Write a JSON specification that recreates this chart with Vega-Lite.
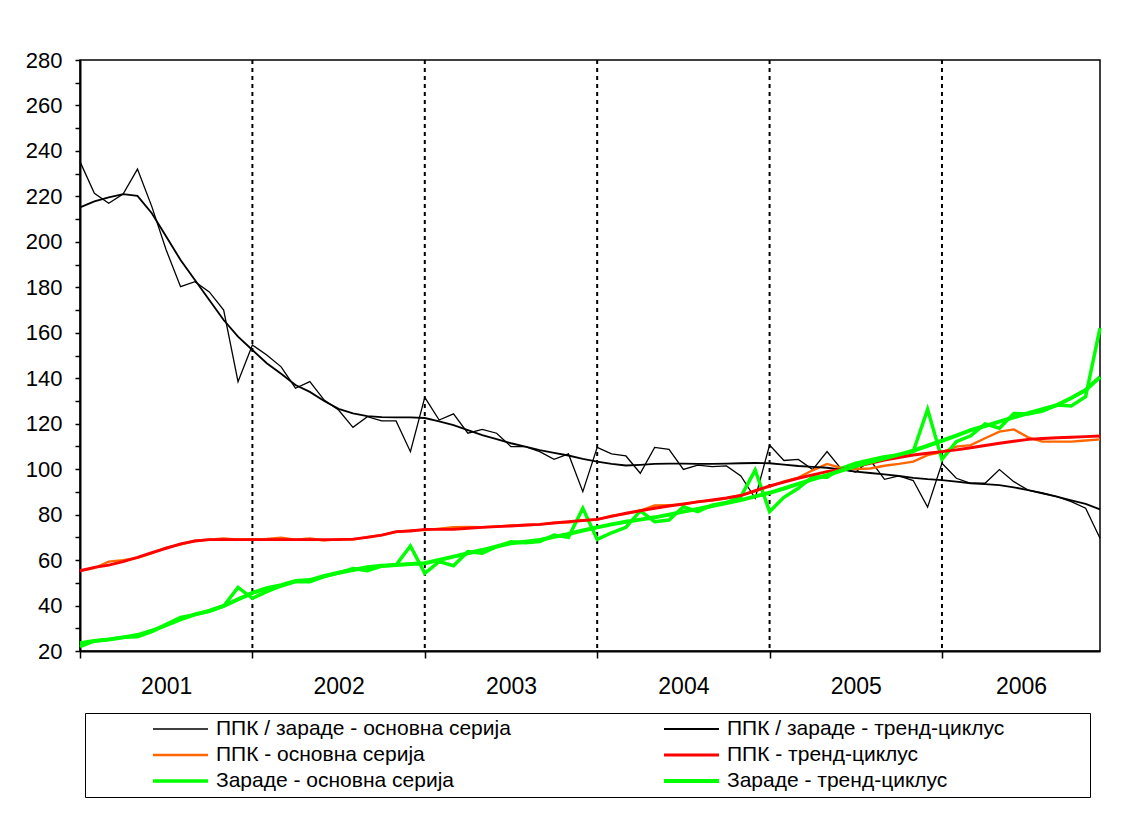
{
  "$schema": "https://vega.github.io/schema/vega-lite/v6.json",
  "width": 1020,
  "height": 591,
  "autosize": {"type": "none"},
  "padding": {"left": 80, "top": 60, "right": 31, "bottom": 174},
  "background": "white",
  "config": {
    "view": {"stroke": "#000", "strokeWidth": 1.5},
    "font": "Liberation Sans"
  },
  "layer": [
    {
      "data": {"values": [{"b": 12}, {"b": 24}, {"b": 36}, {"b": 48}, {"b": 60}]},
      "mark": {"type": "rule", "color": "#000", "strokeWidth": 2, "strokeDash": [4, 4]},
      "encoding": {
        "x": {
          "field": "b", "type": "quantitative",
          "scale": {"domain": [0, 71], "nice": false, "zero": false},
          "axis": {
            "values": [0, 6, 12, 18, 24, 30, 36, 42, 48, 54, 60, 65.5],
            "title": null, "grid": false,
            "labelExpr": "datum.value % 12 === 0 ? '' : '' + (floor(datum.value / 12) + 2001)",
            "tickOpacity": {"condition": {"test": "datum.value % 12 === 0", "value": 1}, "value": 0},
            "tickSize": 7, "tickWidth": 1.5, "tickColor": "#000",
            "domainColor": "#000", "domainWidth": 2,
            "labelFont": "Liberation Sans", "labelFontSize": 23, "labelColor": "#000",
            "labelPadding": 17, "labelOverlap": false, "labelFlush": false
          }
        }
      }
    },
    {
      "data": {"values": [
        {"t":0,"ППК / зараде - основна серија":235.3,"ППК / зараде - тренд-циклус":215.2,"ППК - основна серија":55.3,"ППК - тренд-циклус":55.3,"Зараде - основна серија":21.9,"Зараде - тренд-циклус":23.4},
        {"t":1,"ППК / зараде - основна серија":221.4,"ППК / зараде - тренд-циклус":217.8,"ППК - основна серија":56.5,"ППК - тренд-циклус":56.8,"Зараде - основна серија":24.4,"Зараде - тренд-циклус":24.4},
        {"t":2,"ППК / зараде - основна серија":217,"ППК / зараде - тренд-циклус":219.6,"ППК - основна серија":59.3,"ППК - тренд-циклус":57.8,"Зараде - основна серија":25.1,"Зараде - тренд-циклус":25.1},
        {"t":3,"ППК / зараде - основна серија":221,"ППК / зараде - тренд-циклус":221,"ППК - основна серија":60,"ППК - тренд-циклус":59.3,"Зараде - основна серија":26,"Зараде - тренд-циклус":26},
        {"t":4,"ППК / зараде - основна серија":232,"ППК / зараде - тренд-циклус":220.2,"ППК - основна серија":61,"ППК - тренд-циклус":61.2,"Зараде - основна серија":26.3,"Зараде - тренд-циклус":27},
        {"t":5,"ППК / зараде - основна серија":215.5,"ППК / зараде - тренд-циклус":212.6,"ППК - основна серија":63,"ППК - тренд-циклус":63.3,"Зараде - основна серија":28.5,"Зараде - тренд-циклус":28.9},
        {"t":6,"ППК / зараде - основна серија":196.4,"ППК / зараде - тренд-циклус":202.4,"ППК - основна серија":65.5,"ППК - тренд-циклус":65.2,"Зараде - основна серија":31.8,"Зараде - тренд-циклус":31.4},
        {"t":7,"ППК / зараде - основна серија":180.3,"ППК / зараде - тренд-циклус":192,"ППК - основна серија":66.8,"ППК - тренд-циклус":67.1,"Зараде - основна серија":34.8,"Зараде - тренд-циклус":33.9},
        {"t":8,"ППК / зараде - основна серија":182.5,"ППК / зараде - тренд-циклус":183.2,"ППК - основна серија":68.5,"ППК - тренд-циклус":68.4,"Зараде - основна серија":36,"Зараде - тренд-циклус":36.1},
        {"t":9,"ППК / зараде - основна серија":178,"ППК / зараде - тренд-циклус":174.4,"ППК - основна серија":69,"ППК - тренд-циклус":69,"Зараде - основна серија":37.6,"Зараде - тренд-циклус":37.6},
        {"t":10,"ППК / зараде - основна серија":170,"ППК / зараде - тренд-циклус":165.6,"ППК - основна серија":69.5,"ППК - тренд-циклус":69,"Зараде - основна серија":39.8,"Зараде - тренд-циклус":39.8},
        {"t":11,"ППК / зараде - основна серија":138.5,"ППК / зараде - тренд-циклус":158.3,"ППК - основна серија":69,"ППК - тренд-циклус":69,"Зараде - основна серија":48,"Зараде - тренд-циклус":42.7},
        {"t":12,"ППК / зараде - основна серија":154.6,"ППК / зараде - тренд-циклус":152.4,"ППК - основна серија":69.2,"ППК - тренд-циклус":69,"Зараде - основна серија":43.2,"Зараде - тренд-циклус":45.6},
        {"t":13,"ППК / зараде - основна серија":150.2,"ППК / зараде - тренд-циклус":146.6,"ППК - основна серија":69.3,"ППК - тренд-циклус":69,"Зараде - основна серија":46.1,"Зараде - тренд-циклус":47.6},
        {"t":14,"ППК / зараде - основна серија":145,"ППК / зараде - тренд-циклус":142,"ППК - основна серија":69.8,"ППК - тренд-циклус":69,"Зараде - основна серија":48.6,"Зараде - тренд-циклус":49},
        {"t":15,"ППК / зараде - основна серија":135.6,"ППК / зараде - тренд-циклус":137,"ППК - основна серија":69,"ППК - тренд-циклус":69,"Зараде - основна серија":50.5,"Зараде - тренд-циклус":50.8},
        {"t":16,"ППК / зараде - основна серија":138.5,"ППК / зараде - тренд-циклус":134,"ППК - основна серија":69.5,"ППК - тренд-циклус":69,"Зараде - основна серија":50.5,"Зараде - тренд-циклус":51.2},
        {"t":17,"ППК / зараде - основна серија":130.4,"ППК / зараде - тренд-циклус":130,"ППК - основна серија":68.6,"ППК - тренд-циклус":69,"Зараде - основна серија":52.7,"Зараде - тренд-циклус":53},
        {"t":18,"ППК / зараде - основна серија":126,"ППК / зараде - тренд-циклус":126.5,"ППК - основна серија":69.2,"ППК - тренд-циклус":69,"Зараде - основна серија":54.4,"Зараде - тренд-циклус":54.4},
        {"t":19,"ППК / зараде - основна серија":118.4,"ППК / зараде - тренд-циклус":124.5,"ППК - основна серија":69,"ППК - тренд-циклус":69.2,"Зараде - основна серија":56.3,"Зараде - тренд-циклус":55.6},
        {"t":20,"ППК / зараде - основна серија":123.1,"ППК / зараде - тренд-циклус":123.3,"ППК - основна серија":70.2,"ППК - тренд-циклус":70,"Зараде - основна серија":55.3,"Зараде - тренд-циклус":56.8},
        {"t":21,"ППК / зараде - основна серија":121.2,"ППК / зараде - тренд-циклус":122.9,"ППК - основна серија":71,"ППК - тренд-циклус":71,"Зараде - основна серија":57.4,"Зараде - тренд-циклус":57.5},
        {"t":22,"ППК / зараде - основна серија":121.2,"ППК / зараде - тренд-циклус":122.8,"ППК - основна серија":72.3,"ППК - тренд-циклус":72.5,"Зараде - основна серија":57.8,"Зараде - тренд-циклус":57.8},
        {"t":23,"ППК / зараде - основна серија":107.7,"ППК / зараде - тренд-циклус":122.8,"ППК - основна серија":73,"ППК - тренд-циклус":72.8,"Зараде - основна серија":66.2,"Зараде - тренд-циклус":58.3},
        {"t":24,"ППК / зараде - основна серија":131.6,"ППК / зараде - тренд-циклус":122.5,"ППК - основна серија":73.2,"ППК - тренд-циклус":73.5,"Зараде - основна серија":54.2,"Зараде - тренд-циклус":58.6},
        {"t":25,"ППК / зараде - основна серија":121.6,"ППК / зараде - тренд-циклус":121,"ППК - основна серија":73.8,"ППК - тренд-циклус":73.5,"Зараде - основна серија":59.3,"Зараде - тренд-циклус":60},
        {"t":26,"ППК / зараде - основна серија":124.3,"ППК / зараде - тренд-циклус":119.4,"ППК - основна серија":74.5,"ППК - тренд-циклус":73.5,"Зараде - основна серија":57.5,"Зараде - тренд-циклус":61.5},
        {"t":27,"ППК / зараде - основна серија":115.8,"ППК / зараде - тренд-циклус":117.2,"ППК - основна серија":74.6,"ППК - тренд-циклус":74,"Зараде - основна серија":63.7,"Зараде - тренд-циклус":63},
        {"t":28,"ППК / зараде - основна серија":117.5,"ППК / зараде - тренд-циклус":115,"ППК - основна серија":74.5,"ППК - тренд-циклус":74.4,"Зараде - основна серија":63,"Зараде - тренд-циклус":64.4},
        {"t":29,"ППК / зараде - основна серија":115.8,"ППК / зараде - тренд-циклус":113.2,"ППК - основна серија":74.8,"ППК - тренд-циклус":74.7,"Зараде - основна серија":65.9,"Зараде - тренд-циклус":66},
        {"t":30,"ППК / зараде - основна серија":109.9,"ППК / зараде - тренд-циклус":111.4,"ППК - основна серија":75.2,"ППК - тренд-циклус":75,"Зараде - основна серија":68.1,"Зараде - тренд-циклус":67.4},
        {"t":31,"ППК / зараде - основна серија":109.9,"ППК / зараде - тренд-циклус":109.9,"ППК - основна серија":75.3,"ППК - тренд-циклус":75.4,"Зараде - основна серија":67.6,"Зараде - тренд-циклус":68.1},
        {"t":32,"ППК / зараде - основна серија":107.7,"ППК / зараде - тренд-циклус":108.4,"ППК - основна серија":75.6,"ППК - тренд-циклус":75.7,"Зараде - основна серија":68.1,"Зараде - тренд-циклус":68.8},
        {"t":33,"ППК / зараде - основна серија":104.3,"ППК / зараде - тренд-циклус":107.2,"ППК - основна серија":76.5,"ППК - тренд-циклус":76.3,"Зараде - основна серија":71,"Зараде - тренд-циклус":70.2},
        {"t":34,"ППК / зараде - основна серија":106.7,"ППК / зараде - тренд-циклус":106,"ППК - основна серија":76.5,"ППК - тренд-циклус":76.9,"Зараде - основна серија":70,"Зараде - тренд-циклус":71.5},
        {"t":35,"ППК / зараде - основна серија":90.1,"ППК / зараде - тренд-циклус":104.5,"ППК - основна серија":77.5,"ППК - тренд-циклус":77.4,"Зараде - основна серија":82.8,"Зараде - тренд-циклус":73},
        {"t":36,"ППК / зараде - основна серија":109.6,"ППК / зараде - тренд-циклус":103.3,"ППК - основна серија":77.8,"ППК - тренд-циклус":77.9,"Зараде - основна серија":69.1,"Зараде - тренд-циклус":74.4},
        {"t":37,"ППК / зараде - основна серија":106.7,"ППК / зараде - тренд-циклус":102.3,"ППК - основна серија":79.5,"ППК - тренд-циклус":79.2,"Зараде - основна серија":72,"Зараде - тренд-циклус":75.7},
        {"t":38,"ППК / зараде - основна серија":105.8,"ППК / зараде - тренд-циклус":101.6,"ППК - основна серија":80.3,"ППК - тренд-циклус":80.6,"Зараде - основна серија":74.4,"Зараде - тренд-циклус":76.9},
        {"t":39,"ППК / зараде - основна серија":98.2,"ППК / зараде - тренд-циклус":101.9,"ППК - основна серија":81.8,"ППК - тренд-циклус":81.7,"Зараде - основна серија":81.7,"Зараде - тренд-циклус":77.8},
        {"t":40,"ППК / зараде - основна серија":109.6,"ППК / зараде - тренд-циклус":102.3,"ППК - основна серија":84,"ППК - тренд-циклус":82.8,"Зараде - основна серија":76.9,"Зараде - тренд-циклус":78.8},
        {"t":41,"ППК / зараде - основна серија":108.7,"ППК / зараде - тренд-циклус":102.4,"ППК - основна серија":84.2,"ППК - тренд-циклус":83.8,"Зараде - основна серија":77.6,"Зараде - тренд-циклус":80},
        {"t":42,"ППК / зараде - основна серија":99.9,"ППК / зараде - тренд-циклус":102.4,"ППК - основна серија":84.5,"ППК - тренд-циклус":84.7,"Зараде - основна серија":83.5,"Зараде - тренд-циклус":81.3},
        {"t":43,"ППК / зараде - основна серија":101.8,"ППК / зараде - тренд-циклус":102.3,"ППК - основна серија":85.7,"ППК - тренд-циклус":85.6,"Зараде - основна серија":81.3,"Зараде - тренд-циклус":82.5},
        {"t":44,"ППК / зараде - основна серија":101.1,"ППК / зараде - тренд-циклус":102.3,"ППК - основна серија":86.2,"ППК - тренд-циклус":86.4,"Зараде - основна серија":84.2,"Зараде - тренд-циклус":83.8},
        {"t":45,"ППК / зараде - основна серија":101.4,"ППК / зараде - тренд-циклус":102.4,"ППК - основна серија":87.2,"ППК - тренд-циклус":87.3,"Зараде - основна серија":85.3,"Зараде - тренд-циклус":85.1},
        {"t":46,"ППК / зараде - основна серија":97,"ППК / зараде - тренд-циклус":102.6,"ППК - основна серија":88.6,"ППК - тренд-циклус":88.4,"Зараде - основна серија":87.9,"Зараде - тренд-циклус":86.4},
        {"t":47,"ППК / зараде - основна серија":87.2,"ППК / зараде - тренд-циклус":102.7,"ППК - основна серија":90.3,"ППК - тренд-циклус":90.5,"Зараде - основна серија":99.6,"Зараде - тренд-циклус":88},
        {"t":48,"ППК / зараде - основна серија":110.6,"ППК / зараде - тренд-циклус":102.6,"ППК - основна серија":92.3,"ППК - тренд-циклус":92.6,"Зараде - основна серија":81.3,"Зараде - тренд-циклус":89.6},
        {"t":49,"ППК / зараде - основна серија":103.8,"ППК / зараде - тренд-циклус":102,"ППК - основна серија":94.6,"ППК - тренд-циклус":94.3,"Зараде - основна серија":87.6,"Зараде - тренд-циклус":91.5},
        {"t":50,"ППК / зараде - основна серија":104.3,"ППК / зараде - тренд-циклус":101.4,"ППК - основна серија":96.3,"ППК - тренд-циклус":96,"Зараде - основна серија":91.6,"Зараде - тренд-циклус":93.5},
        {"t":51,"ППК / зараде - основна серија":99.8,"ППК / зараде - тренд-циклус":101,"ППК - основна серија":99.5,"ППК - тренд-циклус":97.5,"Зараде - основна серија":96.7,"Зараде - тренд-циклус":95.5},
        {"t":52,"ППК / зараде - основна серија":107.7,"ППК / зараде - тренд-циклус":100.6,"ППК - основна серија":102.3,"ППК - тренд-циклус":98.9,"Зараде - основна серија":96.4,"Зараде - тренд-циклус":97.4},
        {"t":53,"ППК / зараде - основна серија":100,"ППК / зараде - тренд-циклус":99.8,"ППК - основна серија":100.5,"ППК - тренд-циклус":100,"Зараде - основна серија":100.4,"Зараде - тренд-циклус":99.4},
        {"t":54,"ППК / зараде - основна серија":98.7,"ППК / зараде - тренд-циклус":98.9,"ППК - основна серија":100,"ППК - тренд-циклус":101.1,"Зараде - основна серија":102.6,"Зараде - тренд-циклус":101.4},
        {"t":55,"ППК / зараде - основна серија":104,"ППК / зараде - тренд-циклус":98.3,"ППК - основна серија":100.3,"ППК - тренд-циклус":102.6,"Зараде - основна серија":104,"Зараде - тренд-циклус":103.1},
        {"t":56,"ППК / зараде - основна серија":95.5,"ППК / зараде - тренд-циклус":97.7,"ППК - основна серија":101.5,"ППК - тренд-циклус":104,"Зараде - основна серија":105.5,"Зараде - тренд-циклус":104.8},
        {"t":57,"ППК / зараде - основна серија":97,"ППК / зараде - тренд-циклус":97,"ППК - основна серија":102.3,"ППК - тренд-циклус":105.1,"Зараде - основна серија":106.2,"Зараде - тренд-циклус":106.4},
        {"t":58,"ППК / зараде - основна серија":95,"ППК / зараде - тренд-циклус":96.2,"ППК - основна серија":103.3,"ППК - тренд-циклус":106.2,"Зараде - основна серија":107.7,"Зараде - тренд-циклус":108.1},
        {"t":59,"ППК / зараде - основна серија":83.3,"ППК / зараде - тренд-циклус":95.6,"ППК - основна серија":106.2,"ППК - тренд-циклус":107,"Зараде - основна серија":126.3,"Зараде - тренд-циклус":110.3},
        {"t":60,"ППК / зараде - основна серија":102.6,"ППК / зараде - тренд-циклус":95.2,"ППК - основна серија":107.5,"ППК - тренд-циклус":107.7,"Зараде - основна серија":104.3,"Зараде - тренд-циклус":112.5},
        {"t":61,"ППК / зараде - основна серија":96,"ППК / зараде - тренд-циклус":94.5,"ППК - основна серија":109.9,"ППК - тренд-циклус":108.5,"Зараде - основна серија":112.1,"Зараде - тренд-циклус":114.8},
        {"t":62,"ППК / зараде - основна серија":93.8,"ППК / зараде - тренд-циклус":93.8,"ППК - основна серија":110.6,"ППК - тренд-циклус":109.4,"Зараде - основна серија":114.7,"Зараде - тренд-циклус":117.2},
        {"t":63,"ППК / зараде - основна серија":93.8,"ППК / зараде - тренд-циклус":93.4,"ППК - основна серија":113.6,"ППК - тренд-циклус":110.4,"Зараде - основна серија":119.9,"Зараде - тренд-циклус":119},
        {"t":64,"ППК / зараде - основна серија":99.8,"ППК / зараде - тренд-циклус":93,"ППК - основна серија":116.5,"ППК - тренд-циклус":111.4,"Зараде - основна серија":118,"Зараде - тренд-циклус":120.9},
        {"t":65,"ППК / зараде - основна серија":94.5,"ППК / зараде - тренд-циклус":92,"ППК - основна серија":117.5,"ППК - тренд-циклус":112.3,"Зараде - основна серија":124.5,"Зараде - тренд-циклус":122.8},
        {"t":66,"ППК / зараде - основна серија":90.8,"ППК / зараде - тренд-циклус":90.8,"ППК - основна серија":114,"ППК - тренд-циклус":113.1,"Зараде - основна серија":124.3,"Зараде - тренд-циклус":124.6},
        {"t":67,"ППК / зараде - основна серија":89.4,"ППК / зараде - тренд-циклус":89.4,"ППК - основна серија":112.1,"ППК - тренд-циклус":113.5,"Зараде - основна серија":125.5,"Зараде - тренд-циклус":126.4},
        {"t":68,"ППК / зараде - основна серија":87.9,"ППК / зараде - тренд-циклус":87.9,"ППК - основна серија":112.1,"ППК - тренд-циклус":113.8,"Зараде - основна серија":128.2,"Зараде - тренд-циклус":128.2},
        {"t":69,"ППК / зараде - основна серија":85.7,"ППК / зараде - тренд-циклус":86.3,"ППК - основна серија":112.1,"ППК - тренд-циклус":114,"Зараде - основна серија":127.8,"Зараде - тренд-циклус":131.3},
        {"t":70,"ППК / зараде - основна серија":82.8,"ППК / зараде - тренд-циклус":84.7,"ППК - основна серија":112.6,"ППК - тренд-циклус":114.3,"Зараде - основна серија":131.9,"Зараде - тренд-циклус":134.8},
        {"t":71,"ППК / зараде - основна серија":69.6,"ППК / зараде - тренд-циклус":82.3,"ППК - основна серија":113.1,"ППК - тренд-циклус":114.6,"Зараде - основна серија":162,"Зараде - тренд-циклус":140.5}
      ]},
      "transform": [
        {"fold": ["ППК / зараде - основна серија", "ППК - основна серија", "Зараде - основна серија", "ППК / зараде - тренд-циклус", "ППК - тренд-циклус", "Зараде - тренд-циклус"], "as": ["series", "value"]}
      ],
      "mark": {"type": "line", "strokeJoin": "miter", "strokeCap": "butt"},
      "encoding": {
        "x": {
          "field": "t", "type": "quantitative",
          "scale": {"domain": [0, 71], "nice": false, "zero": false},
          "axis": {
            "values": [0, 6, 12, 18, 24, 30, 36, 42, 48, 54, 60, 65.5],
            "title": null, "grid": false,
            "labelExpr": "datum.value % 12 === 0 ? '' : '' + (floor(datum.value / 12) + 2001)",
            "tickOpacity": {"condition": {"test": "datum.value % 12 === 0", "value": 1}, "value": 0},
            "tickSize": 7, "tickWidth": 1.5, "tickColor": "#000",
            "domainColor": "#000", "domainWidth": 2,
            "labelFont": "Liberation Sans", "labelFontSize": 23, "labelColor": "#000",
            "labelPadding": 17, "labelOverlap": false, "labelFlush": false
          }
        },
        "y": {
          "field": "value", "type": "quantitative",
          "scale": {"domain": [20, 280], "nice": false, "zero": false},
          "axis": {
            "values": [20, 30, 40, 50, 60, 70, 80, 90, 100, 110, 120, 130, 140, 150, 160, 170, 180, 190, 200, 210, 220, 230, 240, 250, 260, 270, 280],
            "labelExpr": "datum.value % 20 === 0 ? datum.label : ''",
            "title": null, "grid": false,
            "tickSize": 5, "tickWidth": 1.5, "tickColor": "#000",
            "domainColor": "#000", "domainWidth": 2,
            "labelFont": "Liberation Sans", "labelFontSize": 22, "labelColor": "#000",
            "labelPadding": 13, "labelOverlap": false, "labelFlush": false
          }
        },
        "color": {
          "field": "series", "type": "nominal",
          "scale": {
            "domain": ["ППК / зараде - основна серија", "ППК / зараде - тренд-циклус", "ППК - основна серија", "ППК - тренд-циклус", "Зараде - основна серија", "Зараде - тренд-циклус"],
            "range": ["#000000", "#000000", "#FF6600", "#FF0000", "#00FF00", "#00FF00"]
          },
          "legend": {
            "orient": "none", "legendX": 5, "legendY": 653,
            "columns": 2, "direction": "horizontal",
            "title": " ", "titleOrient": "right", "titlePadding": 80, "titleFontSize": 4,
            "strokeColor": "#000", "fillColor": "#fff", "padding": 6,
            "symbolType": "stroke", "symbolSize": 3025, "symbolOffset": 60, "clipHeight": 20,
            "labelOffset": 6, "labelFont": "Liberation Sans", "labelFontSize": 21, "labelColor": "#000",
            "labelLimit": 600, "rowPadding": 5, "columnPadding": 91
          }
        },
        "strokeWidth": {
          "field": "series", "type": "nominal",
          "scale": {
            "domain": ["ППК / зараде - основна серија", "ППК / зараде - тренд-циклус", "ППК - основна серија", "ППК - тренд-циклус", "Зараде - основна серија", "Зараде - тренд-циклус"],
            "range": [1.3, 4, 1.3, 4, 1.3, 4]
          },
          "legend": {
            "orient": "none", "legendX": 5, "legendY": 653,
            "columns": 2, "direction": "horizontal",
            "title": " ", "titleOrient": "right", "titlePadding": 80, "titleFontSize": 4,
            "strokeColor": "#000", "fillColor": "#fff", "padding": 6,
            "symbolType": "stroke", "symbolSize": 3025, "symbolOffset": 60, "clipHeight": 20,
            "labelOffset": 6, "labelFont": "Liberation Sans", "labelFontSize": 21, "labelColor": "#000",
            "labelLimit": 600, "rowPadding": 5, "columnPadding": 91
          }
        }
      }
    }
  ]
}
